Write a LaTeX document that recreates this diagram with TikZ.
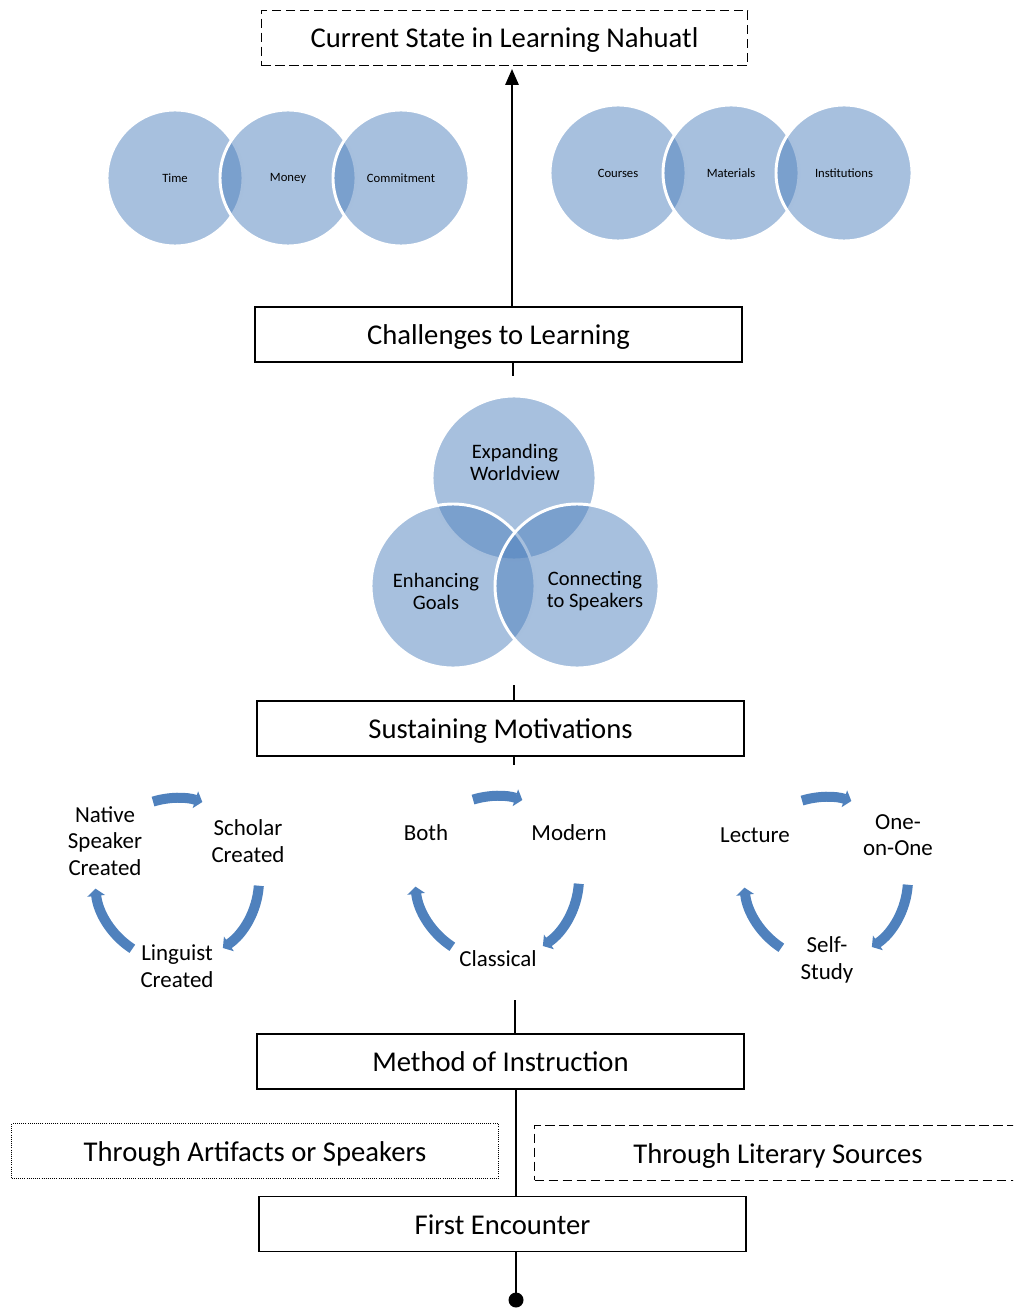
\documentclass[tikz,border=0pt]{standalone}
\usepackage{fontspec}
\setmainfont{Carlito}
\usetikzlibrary{arrows.meta}
\definecolor{accent}{RGB}{79,129,189}
\tikzset{every picture/.style={line width=0.75pt}}

\begin{document}
\begin{tikzpicture}[x=0.75pt,y=0.75pt,yscale=-1,xscale=1,
  stage/.style={draw, line width=1.1pt, minimum width=365pt, minimum height=41pt, inner sep=0pt, text height=20pt, text depth=5pt, font=\fontsize{21.5}{24}\selectfont},
  dashframe/.style={stage, line width=0.9pt, dash pattern=on 7pt off 3.5pt},
  dotframe/.style={stage, line width=0.7pt, dash pattern=on 0.7pt off 0.9pt},
  bubble/.style={circle, draw=white, line width=2.2pt, fill=accent, fill opacity=0.5, text opacity=1, inner sep=0pt, minimum size=102pt, font=\fontsize{9.5}{11}\selectfont},
  venn/.style={bubble, minimum size=123pt},
  venntext/.style={align=center, font=\fontsize{15.4}{16.5}\selectfont},
  steplabel/.style={align=center, font=\fontsize{17.2}{20}\selectfont},
  turn/.style={draw=accent, line width=7.5pt, -{Triangle[length=5.5pt,width=13pt]}},
  link/.style={line width=1.5pt}]
\useasboundingbox (0,0) rectangle (1013,1308);
\clip (0,0) rectangle (1013,1308);

% stages, top to bottom
\node[dashframe] (current) at (504.5,38) {Current State in Learning Nahuatl};
\node[stage] (challenges) at (498.5,334.5) {Challenges to Learning};
\node[stage] (sustaining) at (500.5,728.5) {Sustaining Motivations};
\node[stage] (method) at (500.5,1061.5) {Method of Instruction};
\node[dotframe] (artifacts) at (255,1151) {Through Artifacts or Speakers};
\node[dashframe] (literary) at (778,1153) {Through Literary Sources};
\node[stage] (first) at (502.5,1224) {First Encounter};

% challenges
\node[bubble] (time) at (175,178) {Time};
\node[bubble] (money) at (288,178) {Money};
\node[bubble] (commit) at (401,178) {Commitment};
\node[bubble] (courses) at (618,173) {Courses};
\node[bubble] (materials) at (731,173) {Materials};
\node[bubble] (institutions) at (844,173) {Institutions};

% motivations
\node[venn] (worldview) at (514,478) {};
\node[venn] (goals) at (453,586) {};
\node[venn] (speakers) at (577,586) {};
\node[venntext] (worldviewtxt) at (515,462) {Expanding\\Worldview};
\node[venntext] (goalstxt) at (436,591) {Enhancing\\Goals};
\node[venntext] (speakerstxt) at (595,591) {Connecting\\to Speakers};

% instruction cycles
\foreach \cx/\cy in {177/880, 497/878, 826/879} {
  \draw[turn] (\cx,\cy) ++(-107:82) arc[start angle=-107, end angle=-72, radius=82];
  \draw[turn] (\cx,\cy) ++(4:82) arc[start angle=4, end angle=56, radius=82];
  \draw[turn] (\cx,\cy) ++(123:82) arc[start angle=123, end angle=174, radius=82];
}
\node[steplabel] (native) at (105,841) {Native\\Speaker\\Created};
\node[steplabel] (scholar) at (248,841) {Scholar\\Created};
\node[steplabel] (linguist) at (177,966) {Linguist\\Created};
\node[steplabel] (both) at (426,833) {Both};
\node[steplabel] (modern) at (569,833) {Modern};
\node[steplabel] (classical) at (498,959) {Classical};
\node[steplabel] (lecture) at (755,835) {Lecture};
\node[steplabel] (oneonone) at (898,835) {One-\\on-One};
\node[steplabel] (selfstudy) at (827,960) {Self-\\Study};

% spine
\coordinate (up) at (512,69);
\coordinate (vennfoot) at (513,376);
\coordinate (venntop) at (514,685);
\coordinate (cyclehead) at (514,765);
\coordinate (cyclefoot) at (515,1000);
\coordinate (spine) at (515.5,1100);
\coordinate (root) at (516,1300);
\draw[link, -{Triangle[length=12pt,width=10pt]}] (challenges.north -| up) -- (up);
\draw[link] (challenges.south -| vennfoot) -- (vennfoot);
\draw[link] (venntop) -- (sustaining.north -| venntop);
\draw[link] (sustaining.south -| cyclehead) -- (cyclehead);
\draw[link] (cyclefoot) -- (method.north -| cyclefoot);
\draw[link] (method.south -| spine) -- (first.north -| spine);
\draw[link] (first.south -| root) -- (root);
\fill (root) circle (7.5);

\end{tikzpicture}
\end{document}
